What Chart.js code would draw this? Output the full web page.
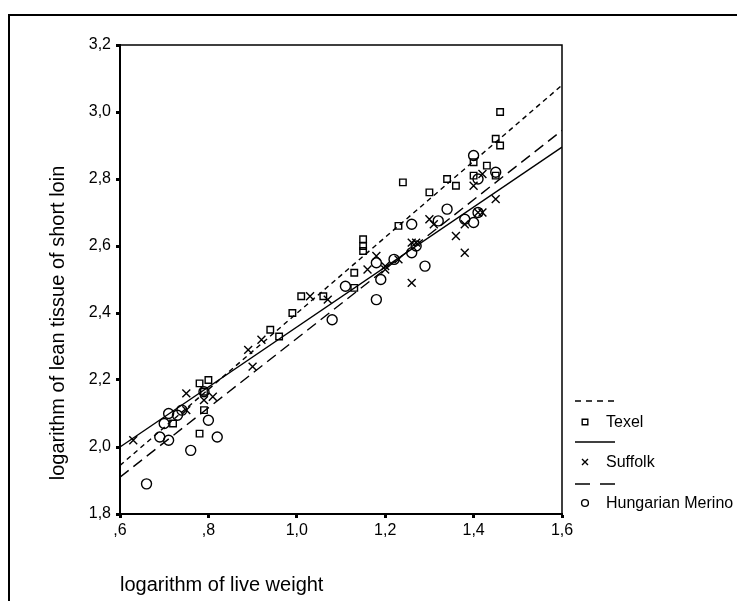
<!DOCTYPE html>
<html>
<head>
<meta charset="utf-8">
<script src="https://cdn.jsdelivr.net/npm/chart.js@4.4.1/dist/chart.umd.min.js"></script>
<style>
    html, body { margin: 0; padding: 0; background: #fff; }
    #wrap { width: 737px; height: 601px; }
</style>
</head>
<body>
<div id="wrap"><canvas id="chart" width="737" height="601"></canvas></div>
<script>
// series names
const breeds = ['Texel', 'Suffolk', 'Hungarian Merino'];

// Texel (squares)
const texelX = [1.46, 1.45, 1.46, 1.40, 1.43, 1.40, 1.45, 1.34, 1.24, 1.36, 1.30, 1.23, 1.15, 1.15,
    1.15, 1.13, 1.13, 1.01, 1.06, 0.99, 0.94, 0.96, 0.78, 0.80, 0.79, 0.72, 0.78, 0.79];
const texelY = [3.00, 2.92, 2.90, 2.85, 2.84, 2.81, 2.81, 2.80, 2.79, 2.78, 2.76, 2.66, 2.62, 2.60,
    2.585, 2.52, 2.475, 2.45, 2.45, 2.40, 2.35, 2.33, 2.19, 2.20, 2.11, 2.07, 2.04, 2.165];

// Suffolk (crosses)
const suffolkX = [0.63, 0.75, 0.75, 0.79, 0.81, 0.89, 0.92, 0.90, 1.03, 1.07, 1.16, 1.18, 1.20, 1.20,
    1.23, 1.26, 1.26, 1.27, 1.30, 1.31, 1.36, 1.38, 1.38, 1.40, 1.42, 1.42, 1.45, 1.41];
const suffolkY = [2.02, 2.16, 2.11, 2.14, 2.15, 2.29, 2.32, 2.24, 2.45, 2.44, 2.53, 2.57, 2.54, 2.53,
    2.56, 2.49, 2.61, 2.61, 2.68, 2.665, 2.63, 2.58, 2.665, 2.78, 2.815, 2.70, 2.74, 2.70];

// Hungarian Merino (circles)
const merinoX = [0.66, 0.69, 0.70, 0.71, 0.71, 0.73, 0.74, 0.76, 0.79, 0.80, 0.82, 1.08, 1.11, 1.18,
    1.18, 1.19, 1.22, 1.26, 1.26, 1.27, 1.29, 1.32, 1.34, 1.38, 1.40, 1.40, 1.41, 1.41, 1.45];
const merinoY = [1.89, 2.03, 2.07, 2.02, 2.10, 2.095, 2.11, 1.99, 2.165, 2.08, 2.03, 2.38, 2.48, 2.55,
    2.44, 2.50, 2.56, 2.665, 2.58, 2.60, 2.54, 2.675, 2.71, 2.68, 2.87, 2.67, 2.70, 2.80, 2.82];

// fitted lines, ends at x = ,6 and 1,6
const fitX = [0.6, 1.6];
const texelFit = [1.945, 3.08];
const suffolkFit = [2.00, 2.895];
const merinoFit = [1.91, 2.945];

const xTitle = 'logarithm of live weight';
const yTitle = 'logarithm of lean tissue of short loin';

const FONT = 'Arial, "Liberation Sans", sans-serif';
Chart.defaults.font.family = FONT;
Chart.defaults.color = '#000';

function toPoints(xs, ys) {
    return xs.map((x, i) => ({ x: x, y: ys[i] }));
}

// 0.6 -> ",6", 1.0 -> "1,0"
function fmt(v) {
    const s = Number(v).toFixed(1).replace('.', ',');
    return s.startsWith('0,') ? s.slice(1) : s;
}

const dashes = [[5, 4], [], [11, 6]];

// frame, top/right plot edges, rotated y title and the legend
const decorations = {
    id: 'decorations',
    beforeDraw(chart) {
        const ctx = chart.ctx;
        ctx.save();
        ctx.strokeStyle = '#000';
        ctx.lineWidth = 2;
        ctx.beginPath();
        ctx.moveTo(9, 601);
        ctx.lineTo(9, 15);
        ctx.lineTo(737, 15);
        ctx.stroke();
        ctx.restore();
    },
    afterDraw(chart) {
        const ctx = chart.ctx;
        const a = chart.chartArea;
        ctx.save();
        ctx.strokeStyle = '#000';
        ctx.lineWidth = 1.5;
        ctx.beginPath();
        ctx.moveTo(a.left, a.top);
        ctx.lineTo(a.right, a.top);
        ctx.lineTo(a.right, a.bottom);
        ctx.stroke();

        // y title
        ctx.save();
        ctx.translate(58, 323);
        ctx.rotate(-Math.PI / 2);
        ctx.font = '20px ' + FONT;
        ctx.fillStyle = '#000';
        ctx.textAlign = 'center';
        ctx.textBaseline = 'middle';
        ctx.fillText(yTitle, 0, 0);
        ctx.restore();

        // legend
        const lineY = [401, 442, 484];
        const itemY = [422, 462, 503];
        ctx.font = '16px ' + FONT;
        ctx.fillStyle = '#000';
        ctx.textAlign = 'left';
        ctx.textBaseline = 'middle';
        ctx.lineWidth = 1.4;
        breeds.forEach((name, i) => {
            ctx.setLineDash(i === 0 ? [6, 5] : i === 2 ? [15, 10] : []);
            ctx.beginPath();
            ctx.moveTo(575, lineY[i]);
            ctx.lineTo(615, lineY[i]);
            ctx.stroke();
            ctx.setLineDash([]);
            const mx = 585, my = itemY[i];
            ctx.beginPath();
            if (i === 0) {
                ctx.rect(mx - 2.8, my - 2.8, 5.6, 5.6);
            } else if (i === 1) {
                ctx.moveTo(mx - 3, my - 3); ctx.lineTo(mx + 3, my + 3);
                ctx.moveTo(mx + 3, my - 3); ctx.lineTo(mx - 3, my + 3);
            } else {
                ctx.arc(mx, my, 3.4, 0, Math.PI * 2);
            }
            ctx.stroke();
            ctx.fillText(name, 606, my + 1);
        });
        ctx.restore();
    }
};

const markerStyles = ['rect', 'crossRot', 'circle'];
const markerRadius = [4.6, 5.6, 5];

const pointSets = [toPoints(texelX, texelY), toPoints(suffolkX, suffolkY), toPoints(merinoX, merinoY)];
const fitSets = [toPoints(fitX, texelFit), toPoints(fitX, suffolkFit), toPoints(fitX, merinoFit)];

const datasets = [];
breeds.forEach((name, i) => {
    datasets.push({
        label: name,
        data: pointSets[i],
        pointStyle: markerStyles[i],
        pointRadius: markerRadius[i],
        pointBorderWidth: 1.4,
        borderColor: '#000',
        backgroundColor: 'rgba(0,0,0,0)',
        showLine: false
    });
    datasets.push({
        label: name + ' fit',
        data: fitSets[i],
        showLine: true,
        pointRadius: 0,
        borderColor: '#000',
        borderWidth: 1.4,
        borderDash: dashes[i],
        fill: false
    });
});

const tickGrid = {
    display: true,
    drawOnChartArea: false,
    drawTicks: true,
    tickLength: 4,
    tickWidth: 3,
    tickColor: '#000'
};

new Chart(document.getElementById('chart'), {
    type: 'scatter',
    data: { datasets: datasets },
    options: {
        responsive: false,
        animation: false,
        layout: { padding: { top: 45, right: 175, left: 0, bottom: 0 } },
        plugins: {
            legend: { display: false },
            tooltip: { enabled: false }
        },
        scales: {
            x: {
                type: 'linear',
                min: 0.6,
                max: 1.6,
                ticks: { stepSize: 0.2, callback: v => fmt(v), font: { size: 16 }, padding: 3, color: '#000', maxRotation: 0 },
                grid: tickGrid,
                border: { display: true, color: '#000', width: 2 },
                title: {
                    display: true,
                    text: xTitle,
                    align: 'start',
                    font: { size: 20 },
                    color: '#000',
                    padding: { top: 0, bottom: 4 }
                },
                afterFit: s => { s.height = 87; }
            },
            y: {
                type: 'linear',
                min: 1.8,
                max: 3.2,
                ticks: { stepSize: 0.2, callback: v => fmt(v), font: { size: 16 }, padding: 5, color: '#000' },
                grid: tickGrid,
                border: { display: true, color: '#000', width: 2 },
                afterFit: s => { s.width = 120; }
            }
        }
    },
    plugins: [decorations]
});
</script>
</body>
</html>
